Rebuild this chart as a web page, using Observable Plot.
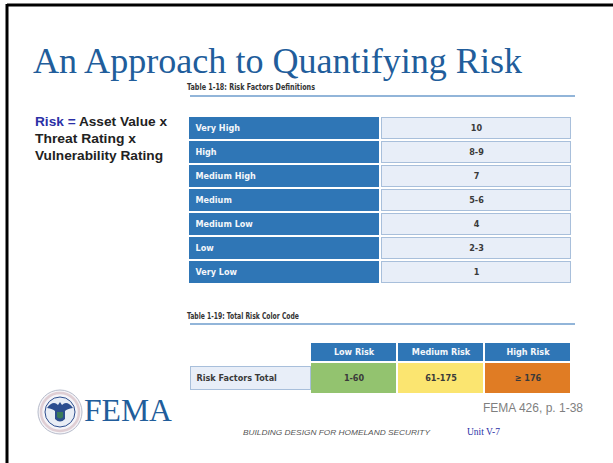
<!DOCTYPE html>
<html>
<head>
<meta charset="utf-8">
<script src="https://cdn.jsdelivr.net/npm/d3@7"></script>
<script src="https://cdn.jsdelivr.net/npm/@observablehq/plot@0.6"></script>
<style>
  html, body { margin: 0; padding: 0; background: #fff; }
  #slide { position: relative; width: 613px; height: 463px; overflow: hidden; background: #fff; }
  #slide > svg.bg { position: absolute; left: 0; top: 0; }
  .plot { position: absolute; }
  .plot svg { display: block; overflow: visible; }
</style>
</head>
<body>
<div id="slide">
<svg class="bg" width="613" height="463" xmlns="http://www.w3.org/2000/svg">
  <!-- frame -->
  <line x1="7" y1="5" x2="613" y2="5" stroke="#000" stroke-width="3"/>
  <line x1="7" y1="4" x2="7" y2="463" stroke="#000" stroke-width="3"/>
  <!-- title -->
  <text x="33" y="73" font-family="'Liberation Serif', 'Times New Roman', serif" font-size="36" fill="#215d9b" textLength="489" lengthAdjust="spacingAndGlyphs">An Approach to Quantifying Risk</text>
  <!-- left formula -->
  <g font-family="'Liberation Sans', Arial, sans-serif" font-size="13.5" font-weight="bold" fill="#222">
    <text x="35" y="126" textLength="132" lengthAdjust="spacingAndGlyphs"><tspan fill="#2b2fa6">Risk = </tspan>Asset Value x</text>
    <text x="35" y="143" textLength="101" lengthAdjust="spacingAndGlyphs">Threat Rating x</text>
    <text x="35" y="160" textLength="128" lengthAdjust="spacingAndGlyphs">Vulnerability Rating</text>
  </g>
  <!-- table titles -->
  <g font-family="'DejaVu Sans Condensed', 'Liberation Sans', sans-serif" font-size="9" font-weight="bold" fill="#333">
    <text x="187" y="90" textLength="128" lengthAdjust="spacingAndGlyphs">Table 1-18: Risk Factors Definitions</text>
    <text x="187" y="319" textLength="112" lengthAdjust="spacingAndGlyphs">Table 1-19: Total Risk Color Code</text>
  </g>
  <line x1="190" y1="96" x2="575" y2="96" stroke="#6e9ccc" stroke-width="1.5"/>
  <line x1="190" y1="324" x2="575" y2="324" stroke="#6e9ccc" stroke-width="1.5"/>
  <!-- seal -->
  <g transform="translate(60,412)">
    <circle r="22" fill="#f5f4f8" stroke="#b7bccb" stroke-width="1"/>
    <circle r="19" fill="none" stroke="#c9a7b0" stroke-width="2.5" opacity="0.5"/>
    <circle r="15" fill="#e9edf5" stroke="#2c4d8e" stroke-width="1"/>
    <path d="M-13,-4 Q-7,-12 -2,-7 L0,-10 L2,-7 Q7,-12 13,-4 Q7,-3 5,-1 L5,7 Q0,12 -5,7 L-5,-1 Q-7,-3 -13,-4 Z" fill="#2c4d8e"/>
    <path d="M-3,0 L3,0 L3,5 Q0,8 -3,5 Z" fill="#3a7a5a"/>
  </g>
  <text x="84" y="421" font-family="'Liberation Serif', 'Times New Roman', serif" font-size="31" fill="#215d9b" textLength="88" lengthAdjust="spacingAndGlyphs">FEMA</text>
  <!-- footer -->
  <text x="583" y="412" text-anchor="end" font-family="'Liberation Sans', Arial, sans-serif" font-size="12" fill="#7f7f7f">FEMA 426, p. 1-38</text>
  <text x="243" y="435" font-family="'Liberation Sans', Arial, sans-serif" font-size="8" font-style="italic" fill="#555" textLength="187" lengthAdjust="spacingAndGlyphs">BUILDING DESIGN FOR HOMELAND SECURITY</text>
  <text x="467" y="435" font-family="'Liberation Serif', 'Times New Roman', serif" font-size="9.5" fill="#2b2fa6">Unit V-7</text>
</svg>
<div id="t1" class="plot" style="left:189px; top:114px;"></div>
<div id="t2h" class="plot" style="left:311px; top:343px;"></div>
<div id="t2l" class="plot" style="left:190px; top:363px;"></div>
<div id="t2d" class="plot" style="left:311px; top:363px;"></div>
</div>
<script>
// ---- data ----
const ratingLevels = ["Very High", "High", "Medium High", "Medium", "Medium Low", "Low", "Very Low"];
const ratingValues = ["10", "8-9", "7", "5-6", "4", "2-3", "1"];
const riskLevels = ["Low Risk", "Medium Risk", "High Risk"];
const riskRanges = ["1-60", "61-175", "\u2265 176"];
const rowLabel = ["Risk Factors Total"];

// ---- styles ----
const FONT = "'DejaVu Sans Condensed', 'Liberation Sans', sans-serif";
const BLUE = "#2f76b6";
const riskFill = ["#93c36f", "#fbe570", "#e07c24"];
const FS = 9;

// ---- Table 1-18 ----
const t1Cells = ratingLevels.map((r, i) => ({row: r, value: ratingValues[i]}));
const t1 = Plot.plot({
  width: 382, height: 172, margin: 0,
  style: {fontFamily: FONT, background: "transparent"},
  x: {type: "band", domain: ["label", "value"], paddingInner: 0.012, paddingOuter: 0, axis: null},
  y: {type: "band", domain: ratingLevels, paddingInner: 0.09, paddingOuter: 0, axis: null},
  marks: [
    Plot.cell(t1Cells, {x: () => "label", y: "row", fill: BLUE}),
    Plot.cell(t1Cells, {x: () => "value", y: "row", fill: "#e8eef8", stroke: "#a8bfdb", inset: 0.5}),
    Plot.text(t1Cells, {y: "row", text: "row", frameAnchor: "left", textAnchor: "start", dx: 6, fill: "#f4f6fa", fontWeight: "bold", fontSize: FS}),
    Plot.text(t1Cells, {x: () => "value", y: "row", text: "value", fill: "#3a3a3a", fontWeight: "bold", fontSize: FS})
  ]
});
document.getElementById("t1").append(t1);

// ---- Table 1-19 header ----
const t2h = Plot.plot({
  width: 260, height: 18, margin: 0,
  style: {fontFamily: FONT, background: "transparent"},
  x: {type: "band", domain: riskLevels, paddingInner: 0.02, paddingOuter: 0, axis: null},
  marks: [
    Plot.cell(riskLevels, {x: d => d, fill: BLUE}),
    Plot.text(riskLevels, {x: d => d, frameAnchor: "middle", text: d => d, fill: "#f4f6fa", fontWeight: "bold", fontSize: FS})
  ]
});
document.getElementById("t2h").append(t2h);

// ---- Table 1-19 row label ----
const t2l = Plot.plot({
  width: 121, height: 30, margin: 0,
  style: {fontFamily: FONT, background: "transparent"},
  y: {type: "band", domain: rowLabel, axis: null},
  marks: [
    Plot.cell(rowLabel, {y: d => d, fill: "#e8eef8", stroke: "#a8bfdb", inset: 0.5}),
    Plot.text(rowLabel, {y: d => d, text: d => d, frameAnchor: "left", textAnchor: "start", dx: 6, fill: "#3a3a3a", fontWeight: "bold", fontSize: FS})
  ]
});
document.getElementById("t2l").append(t2l);

// ---- Table 1-19 values ----
const t2Cells = riskLevels.map((k, i) => ({level: k, range: riskRanges[i]}));
const t2d = Plot.plot({
  width: 260, height: 30, margin: 0,
  style: {fontFamily: FONT, background: "transparent"},
  x: {type: "band", domain: riskLevels, paddingInner: 0.02, paddingOuter: 0, axis: null},
  color: {type: "ordinal", domain: riskLevels, range: riskFill},
  marks: [
    Plot.cell(t2Cells, {x: "level", fill: "level"}),
    Plot.text(t2Cells, {x: "level", frameAnchor: "middle", text: "range", fill: "#3a3a3a", fontWeight: "bold", fontSize: FS})
  ]
});
document.getElementById("t2d").append(t2d);
</script>
</body>
</html>
